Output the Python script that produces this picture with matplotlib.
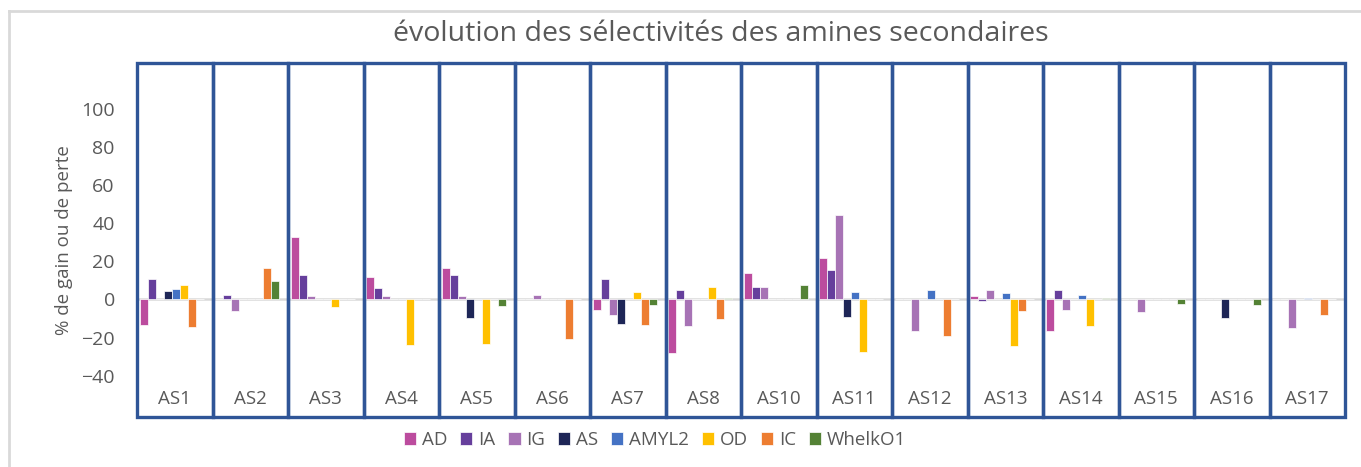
"""Sélectivités des amines secondaires : gain ou perte par série."""

import matplotlib

matplotlib.use("Agg")
import matplotlib.pyplot as plt  # noqa: E402
import numpy as np  # noqa: E402
from matplotlib.lines import Line2D  # noqa: E402
from matplotlib.patches import Rectangle  # noqa: E402

categories = ["AS1", "AS2", "AS3", "AS4", "AS5", "AS6", "AS7", "AS8",
              "AS10", "AS11", "AS12", "AS13", "AS14", "AS15", "AS16", "AS17"]
series = ["AD", "IA", "IG", "AS", "AMYL2", "OD", "IC", "WhelkO1"]

ad = [-13.3, 0, 33, 11.8, 16.7, 0, -5.6, -28, 14, 21.6, 0, 2.1, -16.5, 0, 0, 0]
ia = [11, 2.6, 12.8, 5.8, 12.8, 0, 10.7, 4.9, 6.8, 15.3, 0, -0.9, 4.9, 0, 0, 0]
ig = [0, -5.8, 2.1, 1.6, 2.1, 2.6, -8.4, -13.9, 6.5, 44.4, -16.5, 4.9, -5.6, -6.7, 0, -14.9]
as_ = [4.4, 0, 0, 0, -9.6, 0, -12.8, 0, 0, -9.1, 0, 0, 0, 0, -9.6, 0]
amyl2 = [5.4, 0, 0, 0, 0, 0, 0, 0, 0, 3.7, 4.9, 3.2, 2.6, 0, 0, 0.8]
od = [7.5, 0, -4, -24, -23.5, 0, 4.2, 6.5, 0, -27.4, 0, -24.6, -13.9, 0, 0, 0]
ic = [-14.4, 16.7, 0, 0, 0, -21, -13.3, -10.5, 0, 0, -19.3, -6.1, 0, 0, 0, -7.9]
whelk = [0, 9.8, 0, 0, -3.5, 0, -3, 1, 7.4, 0, 0, 0, 1, -2.5, -3, 0]

colors = ["#BC4C9E", "#663F9C", "#A773B5", "#1E2657", "#4472C4", "#FFC000", "#ED7D31", "#548235"]
grey = "#595959"
frame = "#2F5597"
plt.rcParams["font.family"] = ["Open Sans", "DejaVu Sans"]

values = [ad, ia, ig, as_, amyl2, od, ic, whelk]
x = np.arange(len(categories))
width = 0.106

figure = plt.figure(figsize=(13.61, 4.67), dpi=100)
axis = figure.add_axes([137 / 1361, 47 / 467, 1208 / 1361, 360 / 467])

for position, (name, data, color) in enumerate(zip(series, values, colors)):
    axis.bar(x + (position - 3.5) * width - 0.04, data, width, color=color,
             edgecolor="white", linewidth=0.5, label=name, zorder=3)

axis.axhline(0, color="#D9D9D9", linewidth=1.8, zorder=2)
axis.set_xlim(-0.5, len(categories) - 0.5)
axis.set_ylim(-63.4, 126)
axis.set_yticks([-40, -20, 0, 20, 40, 60, 80, 100])
axis.tick_params(axis="y", length=0, pad=16, labelsize=14, labelcolor=grey)
axis.set_xticks([])
for spine in axis.spines.values():
    spine.set_visible(False)
axis.set_ylabel("% de gain ou de perte", fontsize=13.5, color=grey, labelpad=6)

# cadre bleu autour de chaque amine
for index, name in enumerate(categories):
    axis.add_patch(Rectangle((index - 0.5, -61.8), 1, 186.3, fill=False,
                             edgecolor=frame, linewidth=2.4, zorder=4, clip_on=False))
    axis.text(index, -52.5, name, ha="center", va="center", fontsize=13.5, color=grey)

figure.text(721 / 1361, 1 - 34 / 467, "évolution des sélectivités des amines secondaires",
            ha="center", va="center", fontsize=20.5, color=grey)

handles, labels = axis.get_legend_handles_labels()
figure.legend(handles, labels, loc="center", bbox_to_anchor=(655 / 1361, 1 - 440 / 467),
              ncol=8, frameon=False, fontsize=13.5, labelcolor=grey, handlelength=0.65,
              handleheight=0.65, handletextpad=0.3, columnspacing=0.7)

# bordure de la zone de graphique
figure.add_artist(Line2D([9 / 1361, 1], [1 - 11 / 467] * 2, color="#D9D9D9", linewidth=2))
figure.add_artist(Line2D([9 / 1361] * 2, [0, 1 - 11 / 467], color="#D9D9D9", linewidth=2))

figure.savefig("out.png", dpi=100)
